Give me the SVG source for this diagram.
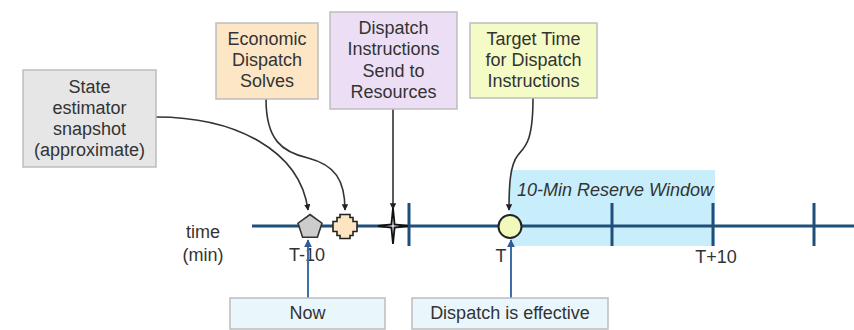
<svg xmlns="http://www.w3.org/2000/svg" width="854" height="330" viewBox="0 0 854 330">
<style>
text{font-family:"Liberation Sans",Arial,sans-serif;font-size:18px;fill:#333;text-anchor:middle}
.box{stroke:#bdbdbd;stroke-width:1.5}
.tl{stroke:#1f4e7a;stroke-width:3;fill:none}
.con{stroke:#333;stroke-width:1.6;fill:none}
.up{stroke:#3d6ea8;stroke-width:2;fill:none}
</style>
<defs>
<marker id="ah" viewBox="0 0 10 10" refX="9" refY="5" markerWidth="4" markerHeight="4" orient="auto"><path d="M0,0L10,5L0,10Z" fill="#222"/></marker>
<marker id="ahb" viewBox="0 0 10 10" refX="9" refY="5" markerWidth="4" markerHeight="4" orient="auto"><path d="M0,0L10,5L0,10Z" fill="#2d5c98"/></marker>
</defs>
<g id="reserve-window">
<rect x="510" y="170" width="205" height="76" fill="#c9eefb"/>
<text x="517" y="196" style="text-anchor:start;font-style:italic">10-Min Reserve Window</text>
</g>
<g id="timeline">
<line class="tl" x1="252" y1="226" x2="854" y2="226"/>
<line class="tl" x1="409" y1="203" x2="409" y2="246"/>
<line class="tl" x1="612" y1="203" x2="612" y2="246"/>
<line class="tl" x1="713" y1="203" x2="713" y2="246"/>
<line class="tl" x1="814" y1="203" x2="814" y2="246"/>
<text x="203" y="238">time</text>
<text x="203" y="261">(min)</text>
<text x="307" y="261">T-10</text>
<text x="501" y="262">T</text>
<text x="716" y="263">T+10</text>
</g>
<g id="connectors">
<path class="con" d="M156,117 C235,117 300,150 308,210" marker-end="url(#ah)"/>
<path class="con" d="M266,99 C266,140 282,152 308,158 C335,165 345,180 345,210" marker-end="url(#ah)"/>
<path class="con" d="M393,109 L393,209" marker-end="url(#ah)"/>
<path class="con" d="M533,98 C533,140 526,146 518,155 C510,165 509,185 509,210" marker-end="url(#ah)"/>
<path class="up" d="M308,298 L308,240" marker-end="url(#ahb)"/>
<path class="up" d="M511,298 L511,240" marker-end="url(#ahb)"/>
</g>
<g id="marker-now">
<polygon points="310,214.5 322,223.2 317.4,237.3 302.6,237.3 298,223.2" fill="#cccccc" stroke="#333" stroke-width="1.6"/>
</g>
<g id="marker-solve">
<polygon points="340,214.5 350,214.5 350,217.5 353,217.5 353,221.5 357,221.5 357,231.5 353,231.5 353,235.5 350,235.5 350,238.5 340,238.5 340,235.5 337,235.5 337,231.5 333,231.5 333,221.5 337,221.5 337,217.5 340,217.5" fill="#fde5c2" stroke="#222" stroke-width="1.6"/>
</g>
<g id="marker-send">
<polygon points="393,208 394.6,224.4 408,226 394.6,227.6 393,244 391.4,227.6 378,226 391.4,224.4" fill="#e8d8f2" stroke="#111" stroke-width="1.8" stroke-linejoin="miter"/>
</g>
<g id="marker-effective">
<circle cx="510" cy="226.5" r="11.5" fill="#f1f9bb" stroke="#222" stroke-width="2"/>
</g>
<g id="state-estimator">
<rect class="box" x="23" y="70" width="133" height="97" fill="#e6e6e6"/>
<text x="89.5" y="93">State</text>
<text x="89.5" y="114">estimator</text>
<text x="89.5" y="135">snapshot</text>
<text x="89.5" y="156">(approximate)</text>
</g>
<g id="economic-dispatch">
<rect class="box" x="216" y="23" width="102" height="76" fill="#fde6c6"/>
<text x="267" y="45">Economic</text>
<text x="267" y="66">Dispatch</text>
<text x="267" y="87">Solves</text>
</g>
<g id="dispatch-instructions">
<rect class="box" x="330" y="12" width="127" height="97" fill="#ecdff5"/>
<text x="393.5" y="34">Dispatch</text>
<text x="393.5" y="55.3">Instructions</text>
<text x="393.5" y="76.6">Send to</text>
<text x="393.5" y="98">Resources</text>
</g>
<g id="target-time">
<rect class="box" x="470" y="23" width="127" height="75" fill="#f4fbc6"/>
<text x="533.5" y="45">Target Time</text>
<text x="533.5" y="66">for Dispatch</text>
<text x="533.5" y="87">Instructions</text>
</g>
<g id="now">
<rect class="box" x="230" y="298" width="155" height="31" fill="#e9f7fd"/>
<text x="307.5" y="319">Now</text>
</g>
<g id="dispatch-effective">
<rect class="box" x="412" y="298" width="196" height="31" fill="#e9f7fd"/>
<text x="510" y="319">Dispatch is effective</text>
</g>
</svg>
